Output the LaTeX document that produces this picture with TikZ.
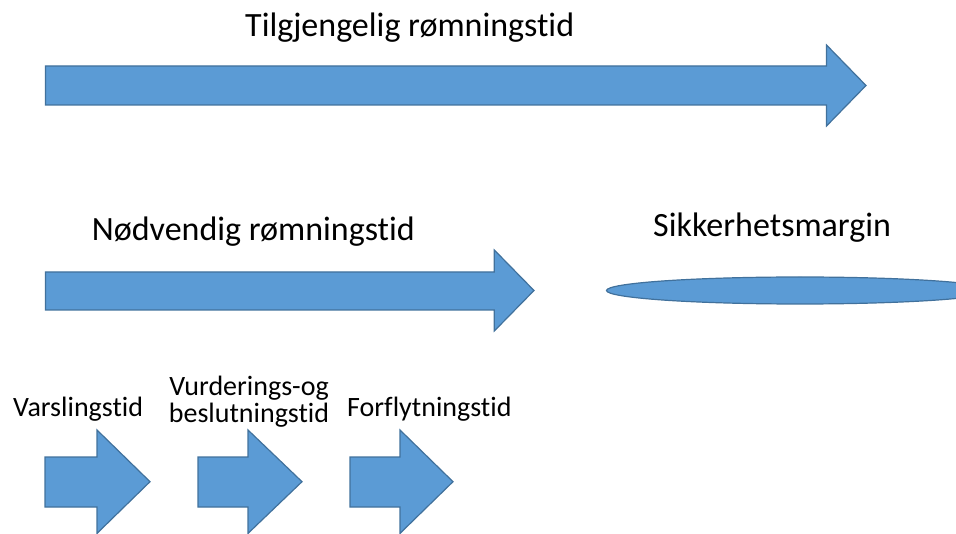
\documentclass[tikz,border=0pt]{standalone}
\usepackage{fontspec}
\setmainfont{Carlito}[Ligatures={NoCommon}]
\definecolor{fillblue}{HTML}{5B9BD5}
\definecolor{edgeblue}{HTML}{41719C}
\begin{document}
\begin{tikzpicture}[x=1pt,y=-1pt,
  blockarrow/.style={fill=fillblue,draw=edgeblue,line width=1.2pt,line join=miter},
  bigtext/.style={font=\fontsize{34}{40}\selectfont,inner sep=0pt,anchor=base west},
  smalltext/.style={font=\fontsize{28}{27}\selectfont,inner sep=0pt}]
\useasboundingbox (0,0) rectangle (956,534);
% top arrow
\draw[blockarrow] (45.5,66) -- (826.5,66) -- (826.5,45) -- (866,85.5) -- (826.5,126) -- (826.5,105) -- (45.5,105) -- cycle;
\node[bigtext] (tilg) at (245,37) {Tilgjengelig rømningstid};
% second arrow
\draw[blockarrow] (45.5,272) -- (494.3,272) -- (494.3,250) -- (534,290.5) -- (494.3,331) -- (494.3,310) -- (45.5,310) -- cycle;
\node[bigtext] (nodv) at (91.7,241) {Nødvendig rømningstid};
% margin
\node[bigtext] (sikk) at (653,237) {Sikkerhetsmargin};
\begin{scope}
\clip (0,0) rectangle (956,534);
\draw[blockarrow] (800,290.5) ellipse [x radius=193.5, y radius=13.5];
\end{scope}
% bottom arrows
\draw[blockarrow] (45,457) -- (97,457) -- (97,430) -- (150,481.7) -- (97,533.4) -- (97,507) -- (45,507) -- cycle;
\draw[blockarrow] (198,457) -- (248,457) -- (248,430) -- (302,481.7) -- (248,533.4) -- (248,507) -- (198,507) -- cycle;
\draw[blockarrow] (350,457) -- (400,457) -- (400,430) -- (453,481.7) -- (400,533.4) -- (400,507) -- (350,507) -- cycle;
\node[smalltext,anchor=base west] (vars) at (13,417) {Varslingstid};
\node[smalltext,anchor=base,align=center] (vurd) at (249,423) {Vurderings-og\\beslutningstid};
\node[smalltext,anchor=base west] (forf) at (347,417) {Forflytningstid};
\end{tikzpicture}
\end{document}
